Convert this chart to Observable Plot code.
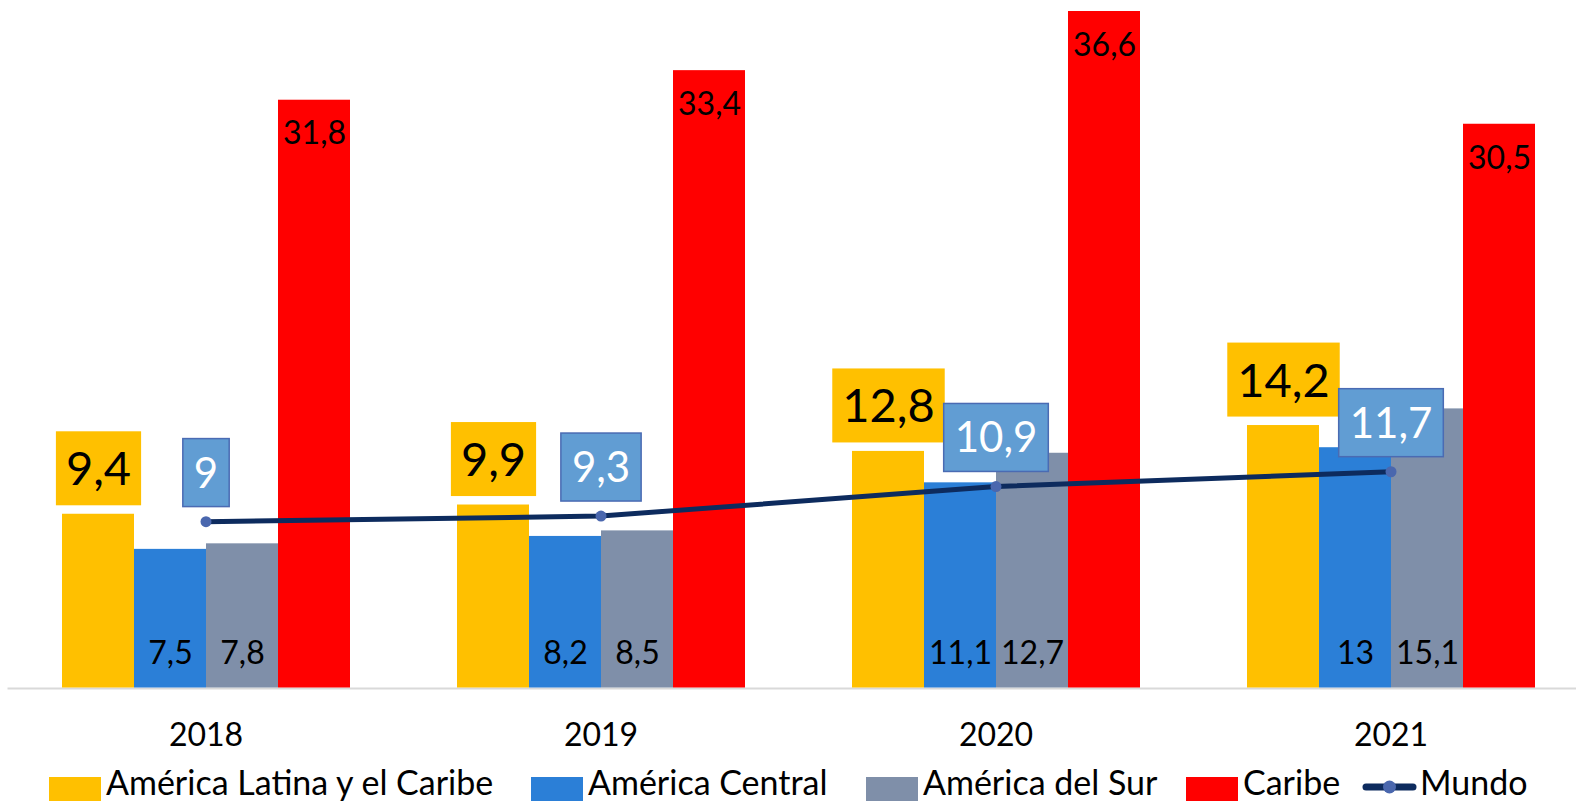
<!DOCTYPE html>
<html>
<head>
<meta charset="utf-8">
<script src="https://cdn.jsdelivr.net/npm/d3@7"></script>
<script src="https://cdn.jsdelivr.net/npm/@observablehq/plot@0.6"></script>
<style>
  html, body { margin: 0; padding: 0; background: #fff; overflow: hidden; }
  #chart { width: 1576px; height: 801px; }
  #chart svg { display: block; }
</style>
</head>
<body>
<div id="chart"></div>
<script>
// ---- data ----
const years = ["2018", "2019", "2020", "2021"];
const series = ["América Latina y el Caribe", "América Central", "América del Sur", "Caribe"];
const alc = [9.4, 9.9, 12.8, 14.2];
const central = [7.5, 8.2, 11.1, 13];
const sur = [7.8, 8.5, 12.7, 15.1];
const caribe = [31.8, 33.4, 36.6, 30.5];
const mundo = [9, 9.3, 10.9, 11.7];
const mundoName = "Mundo";

const colors = ["#FFC000", "#2B7FD7", "#7F8FA9", "#FF0000"];
const lineColor = "#0D2B5E";
const dotColor = "#4A67AE";

const fmt = v => String(v).replace(".", ",");
const rows = vals => years.map((year, i) => ({year, value: vals[i], label: fmt(vals[i])}));

const dAlc = rows(alc), dCen = rows(central), dSur = rows(sur), dCar = rows(caribe), dMun = rows(mundo);

const FONT = "Lato, 'Open Sans', sans-serif";

const plot = Plot.plot({
  width: 1576,
  height: 760,
  marginLeft: 7.5,
  marginRight: -11.5,
  marginTop: 11,
  marginBottom: 72.5,
  style: {fontFamily: FONT, fontSize: "32px", color: "#000", background: "#fff"},
  x: {domain: years, padding: 0, label: null},
  y: {domain: [0, 36.6], axis: null},
  marks: [
    Plot.ruleY([0], {stroke: "#D9D9D9", strokeWidth: 2, dy: 0.5}),
    Plot.barY(dAlc, {x: "year", y: "value", fill: colors[0], insetLeft: 54, insetRight: 269}),
    Plot.barY(dCen, {x: "year", y: "value", fill: colors[1], insetLeft: 126, insetRight: 197}),
    Plot.barY(dSur, {x: "year", y: "value", fill: colors[2], insetLeft: 198, insetRight: 125}),
    Plot.barY(dCar, {x: "year", y: "value", fill: colors[3], insetLeft: 270, insetRight: 53}),
    Plot.axisX({tickSize: 0, tickPadding: 35, fontSize: 32, fill: "#000"}),
    Plot.line(dMun, {x: "year", y: "value", stroke: lineColor, strokeWidth: 5}),
    Plot.dot(dMun, {x: "year", y: "value", r: 5.5, fill: dotColor, stroke: "none"}),
    Plot.text(dAlc, {x: "year", y: "value", text: "label", dx: -107.5, dy: -44, fontSize: 47, fill: "#000"}),
    Plot.text(dCen, {x: "year", y: 0, text: "label", dx: -35.5, dy: -34, fontSize: 32, fill: "#000"}),
    Plot.text(dSur, {x: "year", y: 0, text: "label", dx: 36.5, dy: -34, fontSize: 32, fill: "#000"}),
    Plot.text(dCar, {x: "year", y: "value", text: "label", dx: 108.5, dy: 34, fontSize: 32, fill: "#000"}),
    Plot.text(dMun, {x: "year", y: "value", text: "label", dy: -47.5, fontSize: 42, fill: "#fff"})
  ]
});

document.getElementById("chart").appendChild(plot);

// label boxes behind ALC (first text mark) and Mundo (last text mark) labels
const textGroups = plot.querySelectorAll('g[aria-label="text"]');
function boxes(g, fill, stroke, padX, h) {
  if (!g) return;
  g.querySelectorAll("text").forEach(t => {
    const b = t.getBBox();
    const r = document.createElementNS("http://www.w3.org/2000/svg", "rect");
    const cy = b.y + b.height / 2 + 1;
    r.setAttribute("x", b.x - padX);
    r.setAttribute("y", cy - h / 2);
    r.setAttribute("width", b.width + 2 * padX);
    r.setAttribute("height", h);
    r.setAttribute("fill", fill);
    if (stroke) { r.setAttribute("stroke", stroke); r.setAttribute("stroke-width", 1.5); }
    else r.setAttribute("stroke", "none");
    const tr = t.getAttribute("transform");
    if (tr) r.setAttribute("transform", tr);
    t.parentNode.insertBefore(r, t);
  });
}
boxes(textGroups[0], "#FFC000", null, 10, 74);
boxes(textGroups[textGroups.length - 1], "#619DD3", "#4A6BB3", 11, 68);

// legend below the plot
const leg = d3.select("#chart").append("svg")
  .attr("width", 1576).attr("height", 41)
  .style("font-family", FONT).style("font-size", "34px");
const legendX = [49, 531, 866, 1186];
series.forEach((s, i) => {
  leg.append("rect").attr("x", legendX[i]).attr("y", 17).attr("width", 52).attr("height", 24).attr("fill", colors[i]);
  leg.append("text").attr("x", legendX[i] + 57).attr("y", 35).attr("fill", "#000").text(s);
});
const mx = 1363;
leg.append("line").attr("x1", mx + 3).attr("x2", mx + 50).attr("y1", 27).attr("y2", 27)
  .attr("stroke", lineColor).attr("stroke-width", 7).attr("stroke-linecap", "round");
leg.append("circle").attr("cx", mx + 26.5).attr("cy", 27).attr("r", 6.5).attr("fill", dotColor);
leg.append("text").attr("x", mx + 57).attr("y", 35).attr("fill", "#000").text(mundoName);
</script>
</body>
</html>
